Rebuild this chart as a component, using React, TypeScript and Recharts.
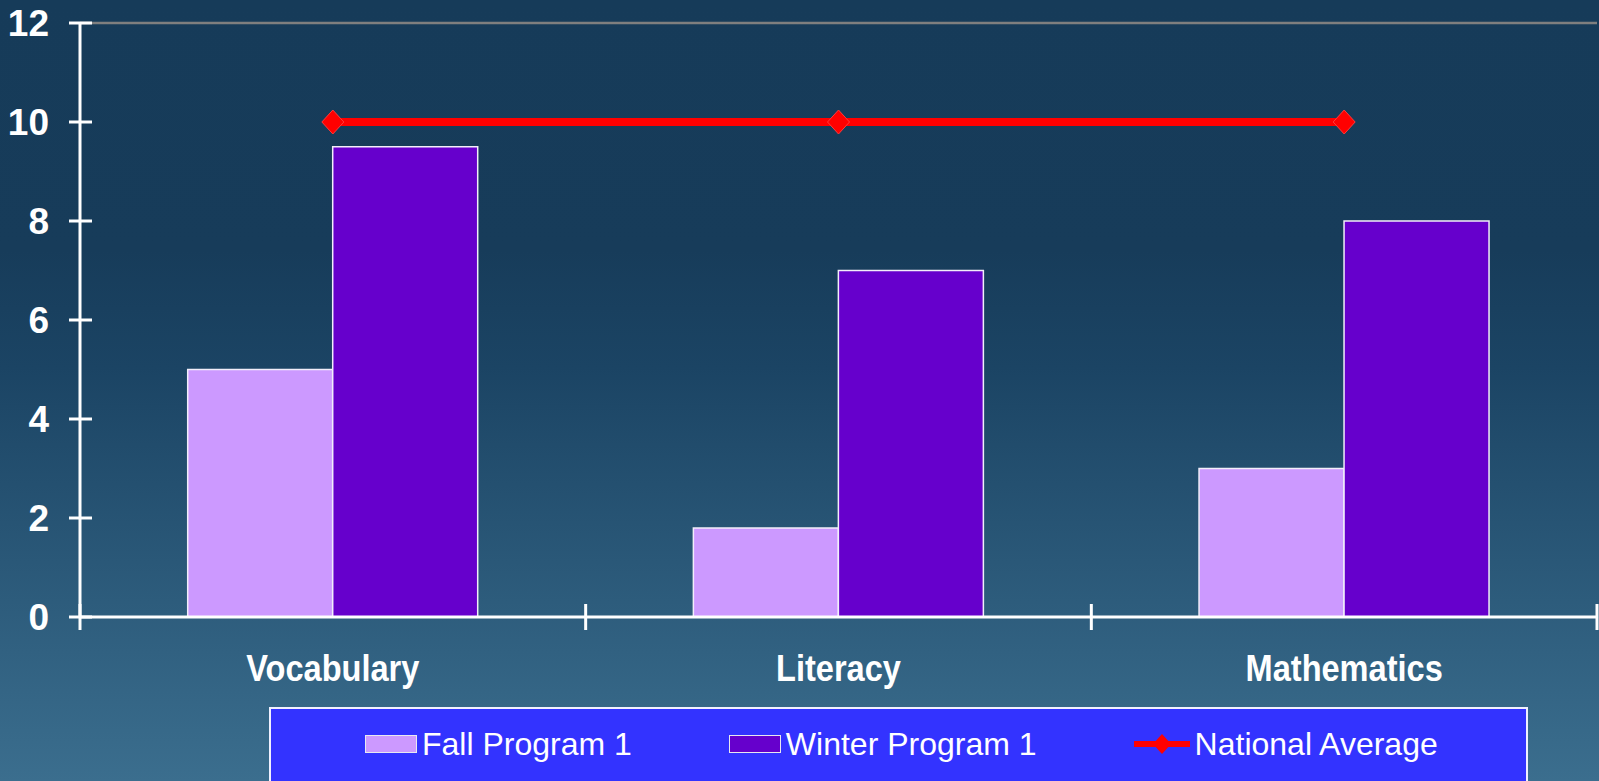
import { ComposedChart, Bar, Line, XAxis, YAxis, Legend, ReferenceLine } from 'recharts'

const categories = ['Vocabulary', 'Literacy', 'Mathematics']
const fallProgram = [5, 1.8, 3]
const winterProgram = [9.5, 7, 8]
const nationalAverage = [10, 10, 10]
const yTicks = [0, 2, 4, 6, 8, 10, 12]

const seriesNames = ['Fall Program 1', 'Winter Program 1', 'National Average']

const FONT = '"Liberation Sans", Arial, sans-serif'

const data = categories.map((name, i) => ({
  name,
  fall: fallProgram[i],
  winter: winterProgram[i],
  national: nationalAverage[i],
}))

// y ticks cross the axis line
const YTick = (props: any) => {
  const { x, y, payload } = props
  return (
    <g>
      <line x1={x - 11} x2={x + 12} y1={y} y2={y} stroke="#fff" strokeWidth={3} />
      <text
        transform={`translate(${x - 31},${y + 13})`}
        textAnchor="end"
        fill="#fff"
        fontSize={37}
        fontWeight="bold"
        fontFamily={FONT}
      >
        {payload.value}
      </text>
    </g>
  )
}

// tick marks sit on the category boundaries, labels in the middle
const XTick = (props: any) => {
  const { x, y, payload, index, visibleTicksCount } = props
  const half = payload.offset ?? 1517 / 6
  const isLast = index === visibleTicksCount - 1
  return (
    <g>
      <line x1={x - half} x2={x - half} y1={y - 13} y2={y + 13} stroke="#fff" strokeWidth={3} />
      {isLast && <line x1={x + half} x2={x + half} y1={y - 13} y2={y + 13} stroke="#fff" strokeWidth={3} />}
      <text
        transform={`translate(${x},${y + 64}) scale(0.88,1)`}
        textAnchor="middle"
        fill="#fff"
        fontSize={37}
        fontWeight="bold"
        fontFamily={FONT}
      >
        {payload.value}
      </text>
    </g>
  )
}

const DiamondDot = (props: any) => {
  const { cx, cy, index } = props
  if (cx == null || cy == null) return null
  return (
    <polygon
      key={`dot-${index}`}
      points={`${cx},${cy - 12} ${cx + 11},${cy} ${cx},${cy + 12} ${cx - 11},${cy}`}
      fill="#FF0000"
      stroke="#FF3b3b"
      strokeWidth={1}
    />
  )
}

const LegendIcon = ({ name }: { name: string }) => {
  if (name === 'National Average') {
    return (
      <svg width={56} height={24} style={{ display: 'block' }}>
        <line x1={0} x2={56} y1={12} y2={12} stroke="#FF0000" strokeWidth={6} />
        <polygon points="28,2 37,12 28,22 19,12" fill="#FF0000" />
      </svg>
    )
  }
  const fill = name === 'Fall Program 1' ? '#CC99FF' : '#6600CC'
  return (
    <div
      style={{
        width: 52,
        height: 18,
        boxSizing: 'border-box',
        background: fill,
        border: '1.5px solid #e8e8f0',
      }}
    />
  )
}

const renderLegend = (props: any) => {
  const payload = props.payload || []
  const ordered = seriesNames.filter((n) => payload.some((p: any) => p.value === n))
  return (
    <div
      style={{
        width: 1259,
        height: 100,
        boxSizing: 'border-box',
        background: '#3333FF',
        border: '2px solid #f0f0ff',
        display: 'flex',
        justifyContent: 'flex-start',
        alignItems: 'flex-start',
        paddingTop: 17,
        paddingLeft: 94,
        gap: 97,
      }}
    >
      {ordered.map((name) => (
        <div key={name} style={{ display: 'flex', alignItems: 'center', height: 36 }}>
          <LegendIcon name={name} />
          <span
            style={{
              marginLeft: 5,
              color: '#fff',
              fontSize: 32,
              lineHeight: '36px',
              fontFamily: FONT,
              whiteSpace: 'nowrap',
            }}
          >
            {name}
          </span>
        </div>
      ))}
    </div>
  )
}

export default function App() {
  return (
    <div
      style={{
        position: 'fixed',
        left: 0,
        top: 0,
        width: 1599,
        height: 781,
        overflow: 'hidden',
        background:
          'linear-gradient(to bottom, #163b59 0%, #173c5a 32%, #1b4464 47%, #2a5878 72%, #3b6e8e 100%)',
      }}
    >
      <ComposedChart
        width={1599}
        height={781}
        data={data}
        margin={{ top: 23, right: 2, bottom: 0, left: 0 }}
        barCategoryGap="21.3%"
        barGap={0}
      >
        <XAxis
          dataKey="name"
          height={164}
          axisLine={{ stroke: '#fff', strokeWidth: 3 }}
          tickLine={false}
          tickSize={0}
          tickMargin={0}
          interval={0}
          tick={<XTick />}
        />
        <YAxis
          width={80}
          domain={[0, 12]}
          ticks={yTicks}
          interval={0}
          axisLine={{ stroke: '#fff', strokeWidth: 3 }}
          tickLine={false}
          tickSize={0}
          tickMargin={0}
          tick={<YTick />}
        />
        <YAxis
          yAxisId="frame"
          orientation="right"
          width={0}
          tick={false}
          tickLine={false}
          axisLine={{ stroke: '#7f7f7f', strokeWidth: 2.5 }}
        />
        <ReferenceLine y={12} stroke="#7f7f7f" strokeWidth={2.5} />
        <Legend
          content={renderLegend}
          layout="horizontal"
          verticalAlign="middle"
          align="center"
          width={1259}
          height={100}
          wrapperStyle={{ left: 269, top: 707 }}
        />
        <Bar
          dataKey="fall"
          name="Fall Program 1"
          fill="#CC99FF"
          stroke="#f2eefa"
          strokeWidth={1.5}
          isAnimationActive={false}
        />
        <Bar
          dataKey="winter"
          name="Winter Program 1"
          fill="#6600CC"
          stroke="#f2eefa"
          strokeWidth={1.5}
          isAnimationActive={false}
        />
        <Line
          type="linear"
          dataKey="national"
          name="National Average"
          stroke="#FF0000"
          strokeWidth={8}
          dot={DiamondDot}
          activeDot={false}
          isAnimationActive={false}
        />
      </ComposedChart>
    </div>
  )
}
